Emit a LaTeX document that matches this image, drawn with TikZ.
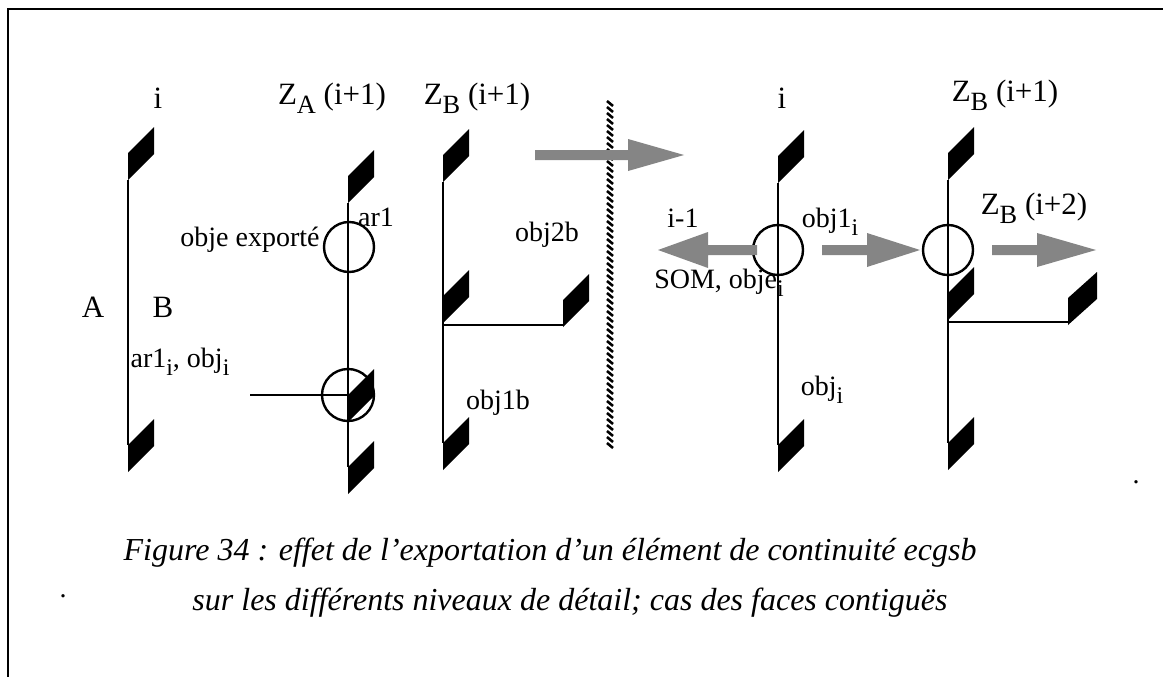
\documentclass[tikz,border=0pt]{standalone}
\usepackage{fontspec}
\setmainfont{Liberation Serif}
\usepackage{graphicx}
\newcommand{\sbs}[1]{\raisebox{-0.3em}{\scalebox{0.85}{#1}}}
\tikzset{
  big/.style={inner sep=0pt, font=\fontsize{31}{36}\selectfont},
  lab/.style={inner sep=0pt, font=\fontsize{28}{32}\selectfont},
  captext/.style={inner sep=0pt, font=\fontsize{32}{38}\selectfont\itshape},
  rod/.style={line width=2pt},
  ring/.style={line width=2.4pt},
  flagfill/.style={fill=black},
  garrowfill/.style={fill=black!48},
}
\newcommand{\flag}[2]{\fill[flagfill] (#1,#2) -- (#1,#2-27) -- (#1+26,#2-53) -- (#1+26,#2-26) -- cycle;}
\newcommand{\wideflag}[2]{\fill[flagfill] (#1,#2) -- (#1,#2-27) -- (#1+29,#2-53) -- (#1+29,#2-26) -- cycle;}
% shaft start, head base, tip, y, head half-height
\newcommand{\garrow}[5]{\fill[garrowfill] (#1,#4-5) -- (#2,#4-5) -- (#2,#4-#5) -- (#3,#4) -- (#2,#4+#5) -- (#2,#4+5) -- (#1,#4+5) -- cycle;}
\begin{document}
\begin{tikzpicture}[x=1pt,y=-1pt]
\useasboundingbox (0,0) rectangle (1163,677);
% frame
\draw[line width=1.6pt] (8,677) -- (8,9) -- (1163,9);

% ---- column 1 (i)
\coordinate (c1t) at (128,180); \coordinate (c1b) at (128,445);
\flag{128}{180} \flag{128}{472}
\draw[rod] (c1t) -- (c1b);

% ---- column 2 (Z_A)
\coordinate (c2t) at (348,203); \coordinate (c2b) at (348,467);
\flag{348}{203} \flag{348}{422} \flag{348}{494}
\draw[rod] (c2t) -- (c2b);
\node[circle, draw, ring, minimum size=50pt, inner sep=0pt] (o1) at (349,247) {};
\node[circle, draw, ring, minimum size=52pt, inner sep=0pt] (o2) at (348,395) {};
\coordinate (h2) at (250,395);
\draw[rod] (h2) -- (o2.center);

% ---- column 3 (Z_B)
\coordinate (c3t) at (443,182); \coordinate (c3b) at (443,443);
\coordinate (c3m) at (443,325); \coordinate (c3r) at (563,325);
\flag{443}{182} \flag{443}{323} \flag{563}{327} \flag{443}{470}
\draw[rod] (c3t) -- (c3b);
\draw[rod] (c3m) -- (c3r);

% ---- wall
\foreach \y in {104,110,...,446} {
  \draw[line width=2.6pt] (607,\y-3) -- (613,\y+2);
}

% ---- column 4 (i)
\coordinate (c4t) at (778,183); \coordinate (c4b) at (778,445);
\flag{778}{183} \flag{778}{472}
\draw[rod] (c4t) -- (c4b);
\node[circle, draw, ring, minimum size=50pt, inner sep=0pt] (o3) at (778,250) {};

% ---- column 5 (Z_B)
\coordinate (c5t) at (948,180); \coordinate (c5b) at (948,443);
\coordinate (c5m) at (948,322); \coordinate (c5r) at (1068,322);
\flag{948}{180} \flag{948}{320} \wideflag{1068}{325} \flag{948}{470}
\draw[rod] (c5t) -- (c5b);
\draw[rod] (c5m) -- (c5r);
\node[circle, draw, ring, minimum size=50pt, inner sep=0pt] (o4) at (948,250) {};

% ---- grey arrows
\garrow{535}{628}{684}{155}{16}
\garrow{757}{708}{658}{250}{18}
\garrow{822}{867}{920}{250}{17}
\garrow{992}{1037}{1096}{250}{17}

% ---- labels
\node[big] (t1) at (158,98) {i};
\node[big] (t2) at (332,98) {Z\sbs{A} (i+1)};
\node[big] (t3) at (477,98) {Z\sbs{B} (i+1)};
\node[big] (t4) at (782,98) {i};
\node[big] (t5) at (1005,95) {Z\sbs{B} (i+1)};
\node[big] (t6) at (1034,208) {Z\sbs{B} (i+2)};
\node[big] (tA) at (93,307) {A};
\node[big] (tB) at (163,307) {B};
\node[lab] (l1) at (376,217) {ar1};
\node[lab] (l2) at (250,240) {obje exporté};
\node[lab] (l3) at (180,362) {ar1\sbs{i}, obj\sbs{i}};
\node[lab] (l4) at (547,235) {obj2b};
\node[lab] (l5) at (498,403) {obj1b};
\node[lab] (l6) at (683,218) {i-1};
\node[lab] (l7) at (719,283) {SOM, obje\sbs{i}};
\node[lab] (l8) at (830,222) {obj1\sbs{i}};
\node[lab] (l9) at (822,390) {obj\sbs{i}};

% ---- caption
\node[captext] (cap1) at (550,553) {Figure 34 : effet de l'exportation d'un élément de continuité ecgsb};
\node[captext] (cap2) at (570,603) {sur les différents niveaux de détail; cas des faces contiguës};
\node[lab] (d1) at (1136,482) {.};
\node[lab] (d2) at (63,596) {.};
\end{tikzpicture}
\end{document}
